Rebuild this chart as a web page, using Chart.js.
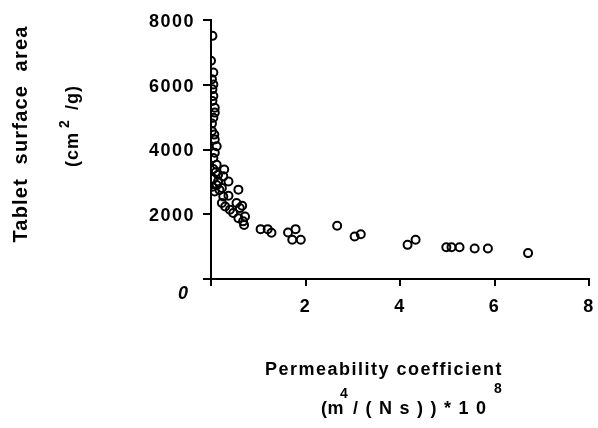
<!DOCTYPE html>
<html>
<head>
<meta charset="utf-8">
<script src="https://cdn.jsdelivr.net/npm/chart.js@4.4.1/dist/chart.umd.min.js"></script>
<style>
  html, body { margin: 0; padding: 0; background: #ffffff; }
  #wrap { width: 598px; height: 428px; }
</style>
</head>
<body>
<div id="wrap"><canvas id="chart" width="598" height="428"></canvas></div>
<script>
// Permeability coefficient (m4/(Ns))*10^8
const permeability = [
    0.03, 0.00, 0.05, 0.02, 0.05, 0.03, 0.05, 0.03, 0.08, 0.08,
    0.05, 0.02, 0.02, 0.07, 0.08, 0.12, 0.08, 0.05, 0.12, 0.05,
    0.10, 0.28, 0.15, 0.26, 0.37, 0.15, 0.05, 0.12, 0.03, 0.23,
    0.18, 0.08, 0.58, 0.37, 0.26, 0.23, 0.54, 0.30, 0.66, 0.40,
    0.61, 0.47, 0.72, 0.58, 0.68, 0.70, 1.05, 1.20, 1.28, 1.63,
    1.79, 1.72, 1.90, 2.67, 3.04, 3.17, 4.16, 4.33, 4.98, 5.09,
    5.26, 5.58, 5.86, 6.71
];
// Tablet surface area (cm2/g)
const surfaceArea = [
    7510, 6740, 6380, 6170, 6010, 5860, 5650, 5500, 5290, 5140,
    4980, 4800, 4570, 4460, 4310, 4100, 3900, 3740, 3530, 3400,
    3300, 3380, 3220, 3170, 3010, 3010, 3100, 2900, 2850, 2810,
    2750, 2700, 2760, 2570, 2550, 2350, 2350, 2240, 2260, 2140,
    2190, 2040, 1930, 1880, 1780, 1670, 1540, 1540, 1430, 1435,
    1540, 1210, 1210, 1645, 1310, 1385, 1055, 1210, 980, 980,
    980, 940, 940, 800
];
const xTicks = [0, 2, 4, 6, 8];
const yTicks = [0, 2000, 4000, 6000, 8000];

const FONT = '"Liberation Sans", Arial, sans-serif';

// Spaced-out lettering like the scanned original
const spacingPlugin = {
    id: 'spacing',
    beforeDraw(chart) {
        chart.ctx.letterSpacing = '1.5px';
    },
    afterDraw(chart) {
        chart.ctx.letterSpacing = '0px';
    },
};

// Axis titles with superscripts, plus the shared origin label
const titlePlugin = {
    id: 'titles',
    afterDraw(chart) {
        const ctx = chart.ctx;
        ctx.save();
        ctx.fillStyle = '#000000';
        ctx.textBaseline = 'alphabetic';

        // y title, first line
        ctx.save();
        ctx.translate(27, 134);
        ctx.rotate(-Math.PI / 2);
        ctx.font = 'bold 20px ' + FONT;
        ctx.letterSpacing = '1.2px';
        ctx.textAlign = 'center';
        ctx.fillText('Tablet  surface  area', 0, 0);
        ctx.restore();

        // y title, second line
        ctx.save();
        ctx.translate(78, 167);
        ctx.rotate(-Math.PI / 2);
        ctx.textAlign = 'left';
        ctx.font = 'bold 18px ' + FONT;
        ctx.letterSpacing = '1px';
        ctx.fillText('(cm', 0, 0);
        ctx.font = 'bold 14px ' + FONT;
        ctx.fillText('2', 39, -9);
        ctx.font = 'bold 18px ' + FONT;
        ctx.fillText('/g)', 57, 0);
        ctx.restore();

        // x title, first line
        ctx.font = 'bold 18px ' + FONT;
        ctx.letterSpacing = '1.5px';
        ctx.textAlign = 'center';
        ctx.fillText('Permeability coefficient', 384, 375);

        // x title, second line
        ctx.textAlign = 'left';
        ctx.letterSpacing = '0.5px';
        ctx.fillText('(m', 321, 414);
        ctx.font = 'bold 14px ' + FONT;
        ctx.fillText('4', 340, 398);
        ctx.font = 'bold 18px ' + FONT;
        ctx.letterSpacing = '7.5px';
        ctx.fillText('/(Ns))*10', 353, 414);
        ctx.letterSpacing = '0px';
        ctx.font = 'bold 14px ' + FONT;
        ctx.fillText('8', 494, 393);

        // origin label
        ctx.font = 'italic bold 18px ' + FONT;
        ctx.textAlign = 'center';
        ctx.fillText('0', 183, 299);

        ctx.restore();
    },
};

new Chart(document.getElementById('chart'), {
    type: 'scatter',
    data: {
        datasets: [{
            data: permeability.map((x, i) => ({ x: x, y: surfaceArea[i] })),
            pointRadius: 4,
            pointBorderWidth: 2,
            borderColor: '#000000',
            backgroundColor: 'rgba(0,0,0,0)',
        }],
    },
    options: {
        responsive: false,
        animation: false,
        events: [],
        layout: {
            padding: { top: 20, right: 9, left: 0, bottom: 0 },
        },
        scales: {
            x: {
                type: 'linear',
                min: 0,
                max: 8,
                afterBuildTicks: (scale) => {
                    scale.ticks = xTicks.map((v) => ({ value: v }));
                },
                afterFit: (scale) => {
                    scale.height = 149;
                    scale.paddingLeft = 0;
                    scale.paddingRight = 0;
                },
                border: { display: true, color: '#000000', width: 2 },
                grid: {
                    drawOnChartArea: false,
                    drawTicks: true,
                    tickLength: 7,
                    color: '#000000',
                    tickColor: '#000000',
                    lineWidth: 2,
                },
                ticks: {
                    color: '#000000',
                    padding: 10,
                    maxRotation: 0,
                    font: { family: FONT, size: 18, weight: 'bold' },
                    callback: (v) => (v === 0 ? '' : v),
                },
            },
            y: {
                type: 'linear',
                min: 0,
                max: 8000,
                afterBuildTicks: (scale) => {
                    scale.ticks = yTicks.map((v) => ({ value: v }));
                },
                afterFit: (scale) => {
                    scale.width = 211;
                    scale.paddingTop = 0;
                    scale.paddingBottom = 0;
                },
                border: { display: true, color: '#000000', width: 2 },
                grid: {
                    drawOnChartArea: false,
                    drawTicks: true,
                    tickLength: 8,
                    color: '#000000',
                    tickColor: '#000000',
                    lineWidth: 2,
                },
                ticks: {
                    color: '#000000',
                    padding: 8,
                    labelOffset: 2,
                    font: { family: FONT, size: 18, weight: 'bold' },
                    callback: (v) => (v === 0 ? '' : v),
                },
            },
        },
        plugins: {
            legend: { display: false },
            tooltip: { enabled: false },
        },
    },
    plugins: [spacingPlugin, titlePlugin],
});
</script>
</body>
</html>
